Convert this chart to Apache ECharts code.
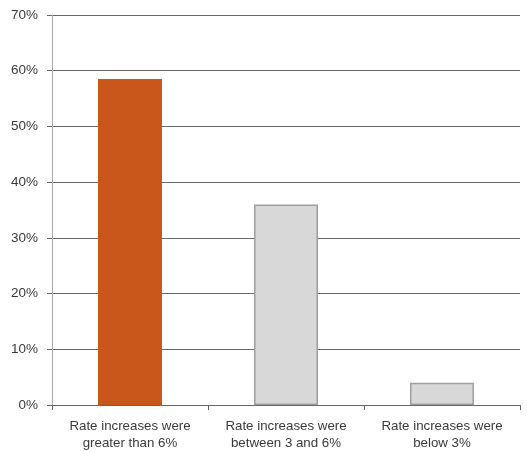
<!DOCTYPE html>
<html>
<head>
<meta charset="utf-8">
<script src="https://cdn.jsdelivr.net/npm/echarts@6/dist/echarts.min.js"></script>
<style>
  html, body { margin: 0; padding: 0; background: #fff; }
  #chart { width: 527px; height: 452px; }
</style>
</head>
<body>
<div id="chart"></div>
<script>
// Share of responses by size of rate increase
const categories = [
  'Rate increases were\ngreater than 6%',
  'Rate increases were\nbetween 3 and 6%',
  'Rate increases were\nbelow 3%'
];
const shares = [58.5, 36, 4];
const barColors = ['#C9561A', '#D8D8D8', '#D8D8D8'];
const barBorders = ['#C9561A', '#9F9F9F', '#9F9F9F'];

const chart = echarts.init(document.getElementById('chart'), null, { renderer: 'canvas' });
const font = '"Liberation Sans", Arial, sans-serif';

chart.setOption({
  animation: false,
  backgroundColor: '#ffffff',
  grid: { left: 52, right: 7, top: 15, bottom: 47, containLabel: false },
  xAxis: {
    type: 'category',
    data: categories,
    axisLine: { show: true, lineStyle: { color: '#666666', width: 1 } },
    axisTick: { show: true, interval: 0, alignWithLabel: false, length: 5, lineStyle: { color: '#666666' } },
    axisLabel: {
      interval: 0, hideOverlap: false,
      color: '#3a3a3a', fontFamily: font, fontSize: 13.3, lineHeight: 17, margin: 13
    },
    splitLine: { show: false }
  },
  yAxis: {
    type: 'value',
    min: 0, max: 70, interval: 10,
    axisLine: { show: true, lineStyle: { color: '#a6a6a6', width: 1 } },
    axisTick: { show: true, length: 5, lineStyle: { color: '#666666' } },
    axisLabel: {
      color: '#3a3a3a', fontFamily: font, fontSize: 13.5, margin: 14,
      formatter: v => v + '%'
    },
    splitLine: { show: true, lineStyle: { color: '#666666', width: 1 } }
  },
  series: [{
    type: 'bar',
    barWidth: '41%',
    data: shares.map((v, i) => ({
      value: v,
      itemStyle: { color: barColors[i], borderColor: barBorders[i], borderWidth: i === 0 ? 0 : 1.5 }
    }))
  }]
});
</script>
</body>
</html>
